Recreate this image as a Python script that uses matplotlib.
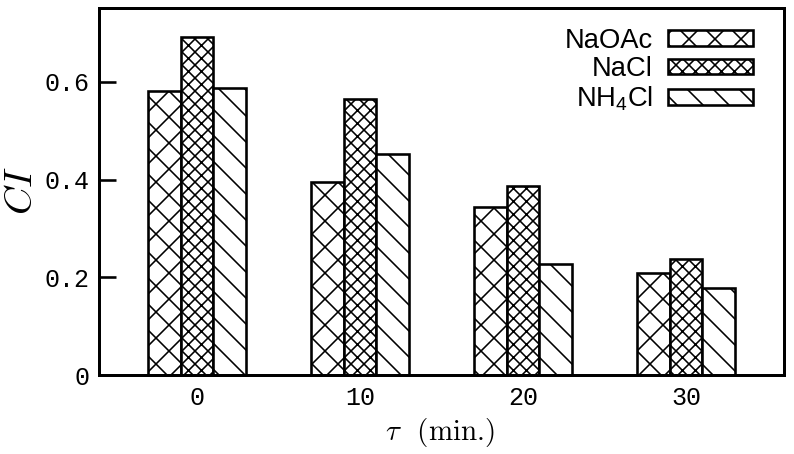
import matplotlib
matplotlib.use("Agg")
import matplotlib.pyplot as plt
import numpy as np
from matplotlib.patches import Rectangle

# ---- data ----
tau = [0, 10, 20, 30]
tick_labels = ["0", "10", "20", "30"]
naoac = [0.581, 0.394, 0.343, 0.208]
nacl = [0.691, 0.565, 0.387, 0.237]
nh4cl = [0.588, 0.452, 0.227, 0.177]
series_names = ["NaOAc", "NaCl", "NH$_\\mathrm{4}$Cl"]
yticks = [0, 0.2, 0.4, 0.6]
ytick_labels = ["0", "0.2", "0.4", "0.6"]

DPI = 156
W, H = 794, 454
PT = 72.0 / DPI  # points per pixel

plt.rcParams["hatch.linewidth"] = 1.6 * PT
plt.rcParams["mathtext.fontset"] = "custom"
plt.rcParams["mathtext.rm"] = "Liberation Sans"

fig = plt.figure(figsize=((W + 0.01) / DPI, (H + 0.01) / DPI), dpi=DPI)
ax = fig.add_axes([99 / W, 1 - 375 / H, (784 - 99) / W, (375 - 8) / H])

x = np.array(tau, dtype=float)
bw = 2.0
hatches = ["xx", "xxxx", "\\\\"]
handles = []
for off, vals, hat in zip([-bw, 0, bw], [naoac, nacl, nh4cl], hatches):
    ax.bar(x + off, vals, width=bw, facecolor="white", edgecolor="black",
           hatch=hat, linewidth=2.6 * PT, zorder=2)
    handles.append(Rectangle((0, 0), 1, 1, facecolor="white", edgecolor="black",
                             hatch=hat, linewidth=2.6 * PT))

ax.set_xlim(-6, 36)
ax.set_ylim(0, 0.751)
ax.set_xticks(tau)
ax.set_xticklabels(tick_labels)
ax.set_yticks(yticks)
ax.set_yticklabels(ytick_labels)

for lab in ax.get_xticklabels() + ax.get_yticklabels():
    lab.set_fontfamily("Liberation Mono")
    lab.set_fontsize(25 * PT)
ax.tick_params(axis="y", direction="in", length=17 * PT, width=2.6 * PT, pad=10 * PT)
ax.tick_params(axis="x", direction="in", length=0, pad=11 * PT)
for s in ax.spines.values():
    s.set_linewidth(3 * PT)
    s.set_zorder(3)

fpx = 27.4
leg = ax.legend(handles, series_names, loc="upper right",
                bbox_to_anchor=(753 / W, 1 - 28 / H),
                bbox_transform=fig.transFigure, frameon=False,
                markerfirst=False, borderpad=0, borderaxespad=0,
                handlelength=85 / fpx, handleheight=14 / fpx,
                handletextpad=15 / fpx, labelspacing=0.08,
                prop=dict(family="Liberation Sans", size=fpx * PT))
for t in leg.get_texts():
    t.set_ha("right")

fig.text(21 / W, 1 - 190 / H, "$CI$", rotation=90, ha="center", va="center",
         fontsize=39 * PT, math_fontfamily="cm")
fig.text(440 / W, 1 - 432 / H, r"$\tau$  (min.)", ha="center", va="center",
         fontsize=29 * PT, family="cmr10", math_fontfamily="cm")

fig.savefig("out.png", dpi=DPI)
